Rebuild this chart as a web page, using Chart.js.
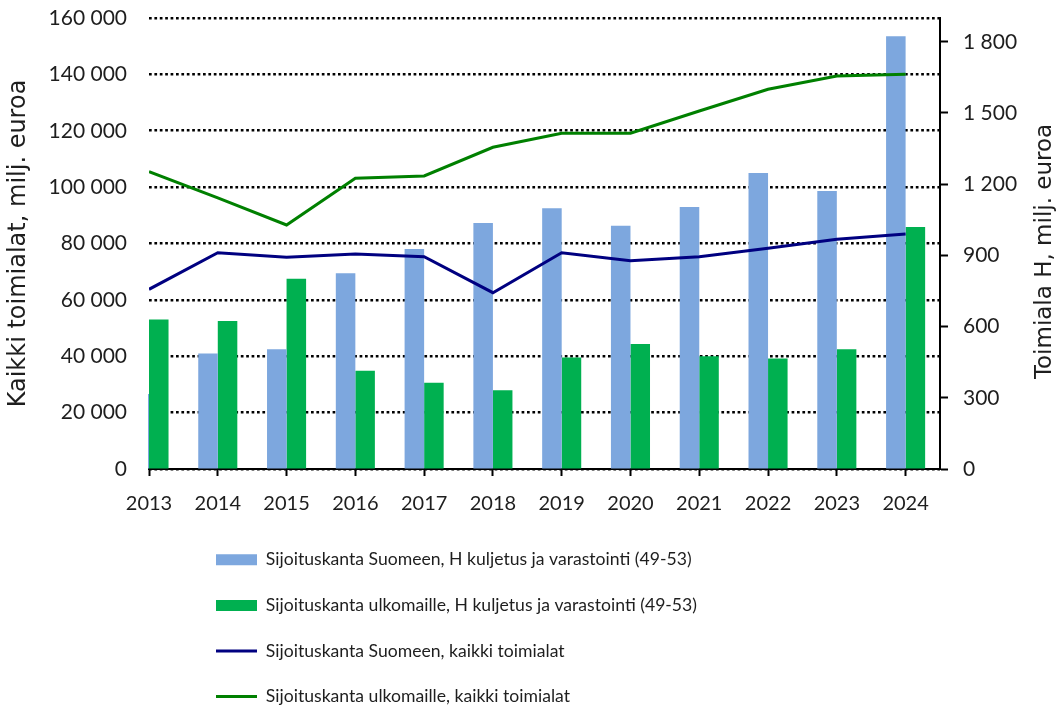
<!DOCTYPE html>
<html>
<head>
<meta charset="utf-8">
<script src="https://cdn.jsdelivr.net/npm/chart.js@4.4.1/dist/chart.umd.min.js"></script>
<style>
html,body{margin:0;padding:0;background:#fff;}
canvas{display:block;}
</style>
</head>
<body>
<canvas id="c" width="1056" height="707"></canvas>
<script>
// ---- data ----
const years = ['2013','2014','2015','2016','2017','2018','2019','2020','2021','2022','2023','2024'];
// Toimiala H (right axis), milj. euroa
const hSuomeen    = [316, 487, 505, 825, 927, 1036, 1099, 1025, 1104, 1247, 1171, 1823];
const hUlkomaille = [630, 624, 801, 414, 363, 332, 470, 527, 475, 466, 505, 1020];
// Kaikki toimialat (left axis), milj. euroa
const kaikkiSuomeen    = [63750, 76740, 75100, 76270, 75320, 62550, 76740, 73900, 75320, 78300, 81490, 83370];
const kaikkiUlkomaille = [105470, 96200, 86560, 103130, 103950, 114130, 119100, 119100, 127000, 134700, 139430, 140030];
const rightTicks = [0, 300, 600, 900, 1200, 1500, 1800];
const seriesNames = [
  'Sijoituskanta Suomeen, H kuljetus ja varastointi (49-53)',
  'Sijoituskanta ulkomaille, H kuljetus ja varastointi (49-53)',
  'Sijoituskanta Suomeen, kaikki toimialat',
  'Sijoituskanta ulkomaille, kaikki toimialat'
];
const leftTitle = 'Kaikki toimialat, milj. euroa';
const rightTitle = 'Toimiala H, milj. euroa';

// ---- helpers ----
const fmt = v => String(v).replace(/\B(?=(\d{3})+(?!\d))/g, '\u00a0');
const pts = arr => arr.map((v, i) => ({x: i, y: v}));
const TXT = '#1e1e1e';

const legendPlace = {
  id: 'legendPlace',
  afterLayout(chart) {
    const lg = chart.legend;
    if (!lg) return;
    lg.left = 188;
    lg.right = lg.left + 700;
    lg.top = 523;
    lg.bottom = lg.top + 260;
    lg.width = 700;
    lg.height = 260;
  }
};

const rightTitlePlugin = {
  id: 'rightTitle',
  afterDraw(chart) {
    const ctx = chart.ctx;
    const a = chart.chartArea;
    ctx.save();
    ctx.translate(chart.width - 11, (a.top + a.bottom) / 2 + 8);
    ctx.rotate(-Math.PI / 2);
    ctx.font = '23px "DejaVu Sans"';
    ctx.fillStyle = TXT;
    ctx.textAlign = 'center';
    ctx.textBaseline = 'middle';
    ctx.fillText(rightTitle, 0, 0);
    ctx.restore();
  }
};

const barClip = {left: 1, right: 0, top: false, bottom: 0};

new Chart(document.getElementById('c'), {
  type: 'bar',
  data: {
    datasets: [
      {type: 'bar', label: seriesNames[0], data: pts(hSuomeen), yAxisID: 'y1',
       backgroundColor: '#7DA7DE', borderWidth: 0, barPercentage: 1, categoryPercentage: 0.568,
       order: 1, pointStyle: 'rect', clip: barClip},
      {type: 'bar', label: seriesNames[1], data: pts(hUlkomaille), yAxisID: 'y1',
       backgroundColor: '#00B050', borderWidth: 0, barPercentage: 1, categoryPercentage: 0.568,
       order: 1, pointStyle: 'rect', clip: barClip},
      {type: 'line', label: seriesNames[2], data: pts(kaikkiSuomeen), yAxisID: 'y',
       borderColor: '#000080', backgroundColor: '#000080', borderWidth: 3, pointRadius: 0,
       tension: 0, order: 0, pointStyle: 'line'},
      {type: 'line', label: seriesNames[3], data: pts(kaikkiUlkomaille), yAxisID: 'y',
       borderColor: '#008000', backgroundColor: '#008000', borderWidth: 3, pointRadius: 0,
       tension: 0, order: 0, pointStyle: 'line'}
    ]
  },
  options: {
    responsive: false,
    animation: false,
    devicePixelRatio: 1,
    layout: {padding: {top: 18, left: 0, right: 0, bottom: 193}},
    plugins: {
      tooltip: {enabled: false},
      legend: {
        position: 'chartArea',
        align: 'start',
        labels: {
          usePointStyle: true,
          pointStyleWidth: 41,
          boxHeight: 11,
          padding: 28,
          color: TXT,
          font: {family: 'Lato', size: 17.6},
          sort: (a, b) => a.datasetIndex - b.datasetIndex
        }
      }
    },
    scales: {
      x: {
        type: 'linear',
        min: 0,
        max: 11.5,
        offset: false,
        afterBuildTicks: s => { s.ticks = years.map((_, i) => ({value: i})); },
        afterFit: s => { s.height = 45; },
        grid: {drawOnChartArea: false, offset: false, drawTicks: true, tickLength: 7, tickWidth: 2, tickColor: '#000'},
        border: {display: true, color: '#000', width: 2},
        ticks: {
          autoSkip: false, maxRotation: 0, padding: 16,
          color: TXT, font: {family: 'Lato', size: 20},
          callback: v => years[v] ?? ''
        }
      },
      y: {
        position: 'left',
        min: 0,
        max: 160000,
        afterFit: s => { s.width = 149; s.paddingTop = 12; s.paddingBottom = 0; },
        grid: {color: '#000', lineWidth: 2.6, drawTicks: false},
        border: {display: false, dash: [2.7, 2.7]},
        ticks: {stepSize: 20000, padding: 22, color: TXT, font: {family: 'Lato', size: 21},
                callback: v => fmt(v)},
        title: {display: true, text: leftTitle, color: TXT, padding: {top: 4, bottom: 0},
                font: {family: 'DejaVu Sans', size: 24}}
      },
      y1: {
        position: 'right',
        min: 0,
        max: 1900,
        afterBuildTicks: s => { s.ticks = rightTicks.map(v => ({value: v})); },
        afterFit: s => { s.width = 116; s.paddingTop = 12; s.paddingBottom = 0; },
        grid: {drawOnChartArea: false, drawTicks: true, tickLength: 8, tickWidth: 2, tickColor: '#000'},
        border: {display: true, color: '#000', width: 2},
        ticks: {padding: 15, color: TXT, font: {family: 'Lato', size: 21}, callback: v => fmt(v)}
      }
    }
  },
  plugins: [legendPlace, rightTitlePlugin]
});
</script>
</body>
</html>
